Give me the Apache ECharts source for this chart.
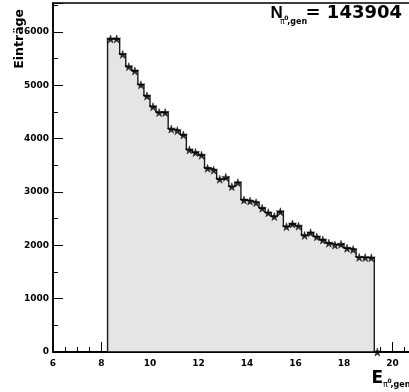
<!DOCTYPE html>
<html>
<head>
<meta charset="utf-8">
<script src="https://cdn.jsdelivr.net/npm/echarts@6/dist/echarts.min.js"></script>
<style>
html, body { margin: 0; padding: 0; overflow: hidden; background: #fff; }
#main { width: 441px; height: 392px; }
</style>
</head>
<body>
<div id="main"></div>
<script>
// histogram binning
const binLow = 8.25
const binWidth = 0.25
// entries per bin, the last bin is empty
const counts = [
  5870, 5870, 5580, 5350, 5270, 5010, 4800, 4600, 4490, 4490,
  4180, 4150, 4070, 3790, 3740, 3690, 3445, 3410, 3240, 3275,
  3100, 3175, 2850, 2830, 2800, 2695, 2610, 2540, 2630, 2350,
  2400, 2360, 2185, 2235, 2160, 2100, 2040, 2005, 2020, 1945,
  1920, 1775, 1770, 1765, 0
]
const totalText = '= 143904'
const yTitle = 'Einträge'

const font = 'DejaVu Sans'
const chart = echarts.init(document.getElementById('main'))

// stepped outline built from the bin edges
const outline = [[binLow, 0]]
counts.forEach((c, i) => {
  outline.push([binLow + i * binWidth, c])
  outline.push([binLow + (i + 1) * binWidth, c])
})
outline.push([binLow + counts.length * binWidth, 0])
// markers at the bin centres
const centres = counts.map((c, i) => [binLow + (i + 0.5) * binWidth, c])

const star = 'path://M50,0 L61,35 L98,35 L68,57 L79,91 L50,70 L21,91 L32,57 L2,35 L39,35 Z'

// text with its vertical middle at y
function txt(text, x, y, size, extra, family, weight) {
  return {
    type: 'text',
    x: x,
    y: y,
    z: 100,
    style: Object.assign({
      text: text,
      fill: '#000',
      font: (weight || 'bold') + ' ' + size + 'px "' + (family || font) + '"',
      textAlign: 'left',
      textVerticalAlign: 'middle'
    }, extra || {})
  }
}

const yMax = 6544

let option = {
  animation: false,
  backgroundColor: '#fff',
  grid: {
    left: 53, right: 0, top: 3, bottom: 40,
    containLabel: false, outerBoundsMode: 'none',
    show: true, borderColor: '#000', borderWidth: 1.5
  },
  xAxis: [
    {
      type: 'value', min: 6, max: 22, interval: 2,
      axisLine: { show: true, lineStyle: { color: '#000', width: 1.5 } },
      axisTick: { show: true, inside: true, length: 10, lineStyle: { color: '#000', width: 1 } },
      minorTick: { show: true, splitNumber: 4, length: 5, lineStyle: { color: '#000', width: 1 } },
      splitLine: { show: false },
      axisLabel: { color: '#000', fontFamily: font, fontWeight: 'bold', fontSize: 9, margin: 7 }
    },
    {
      // axis line drawn over the filled histogram
      type: 'value', min: 6, max: 22, position: 'bottom', z: 10,
      axisLine: { show: true, lineStyle: { color: '#000', width: 1.5 } },
      axisTick: { show: false }, axisLabel: { show: false }, splitLine: { show: false }
    }
  ],
  yAxis: [
    {
      type: 'value', min: 0, max: yMax, interval: 1000,
      axisLine: { show: true, lineStyle: { color: '#000', width: 1.5 } },
      axisTick: { show: true, inside: true, length: 10, lineStyle: { color: '#000', width: 1 } },
      splitLine: { show: false },
      axisLabel: {
        color: '#000', fontFamily: font, fontWeight: 'bold', fontSize: 9, margin: 4,
        formatter: v => (v % 1000 === 0 ? String(v) : '')
      }
    },
    {
      // short ticks every 500
      type: 'value', min: 0, max: yMax, interval: 500, position: 'left',
      axisLine: { show: false },
      axisTick: { show: true, inside: true, length: 5, lineStyle: { color: '#000', width: 1 } },
      axisLabel: { show: false }, splitLine: { show: false }
    }
  ],
  series: [
    {
      type: 'line',
      data: outline,
      showSymbol: false,
      lineStyle: { color: '#1a1a1a', width: 1.4 },
      areaStyle: { color: '#e5e5e5', opacity: 1 },
      z: 2
    },
    {
      type: 'scatter',
      data: centres,
      symbol: star,
      symbolSize: 8,
      itemStyle: { color: '#000', borderColor: '#000', borderWidth: 0.6 },
      z: 3
    }
  ],
  graphic: [
    txt('N', 270.5, 13.5, 17, { scaleX: 0.87 }, 'Liberation Sans'),
    txt('π', 280, 21.5, 8, null, 'DejaVu Sans', 'normal'),
    txt('0', 284.3, 18, 6),
    txt(',gen', 287.3, 21.5, 8),
    txt(totalText, 402, 13.5, 18, { textAlign: 'right' }),
    txt('E', 371.5, 378.5, 17),
    txt('π', 383, 385, 8, null, 'DejaVu Sans', 'normal'),
    txt('0', 387.5, 381.5, 6),
    txt(',gen', 390.5, 385, 8),
    {
      type: 'text', x: 19.5, y: 9, rotation: Math.PI / 2, z: 100,
      style: {
        text: yTitle, fill: '#000', font: 'bold 12.5px "' + font + '"',
        textAlign: 'right', textVerticalAlign: 'middle'
      }
    }
  ]
}

chart.setOption(option)
</script>
</body>
</html>
